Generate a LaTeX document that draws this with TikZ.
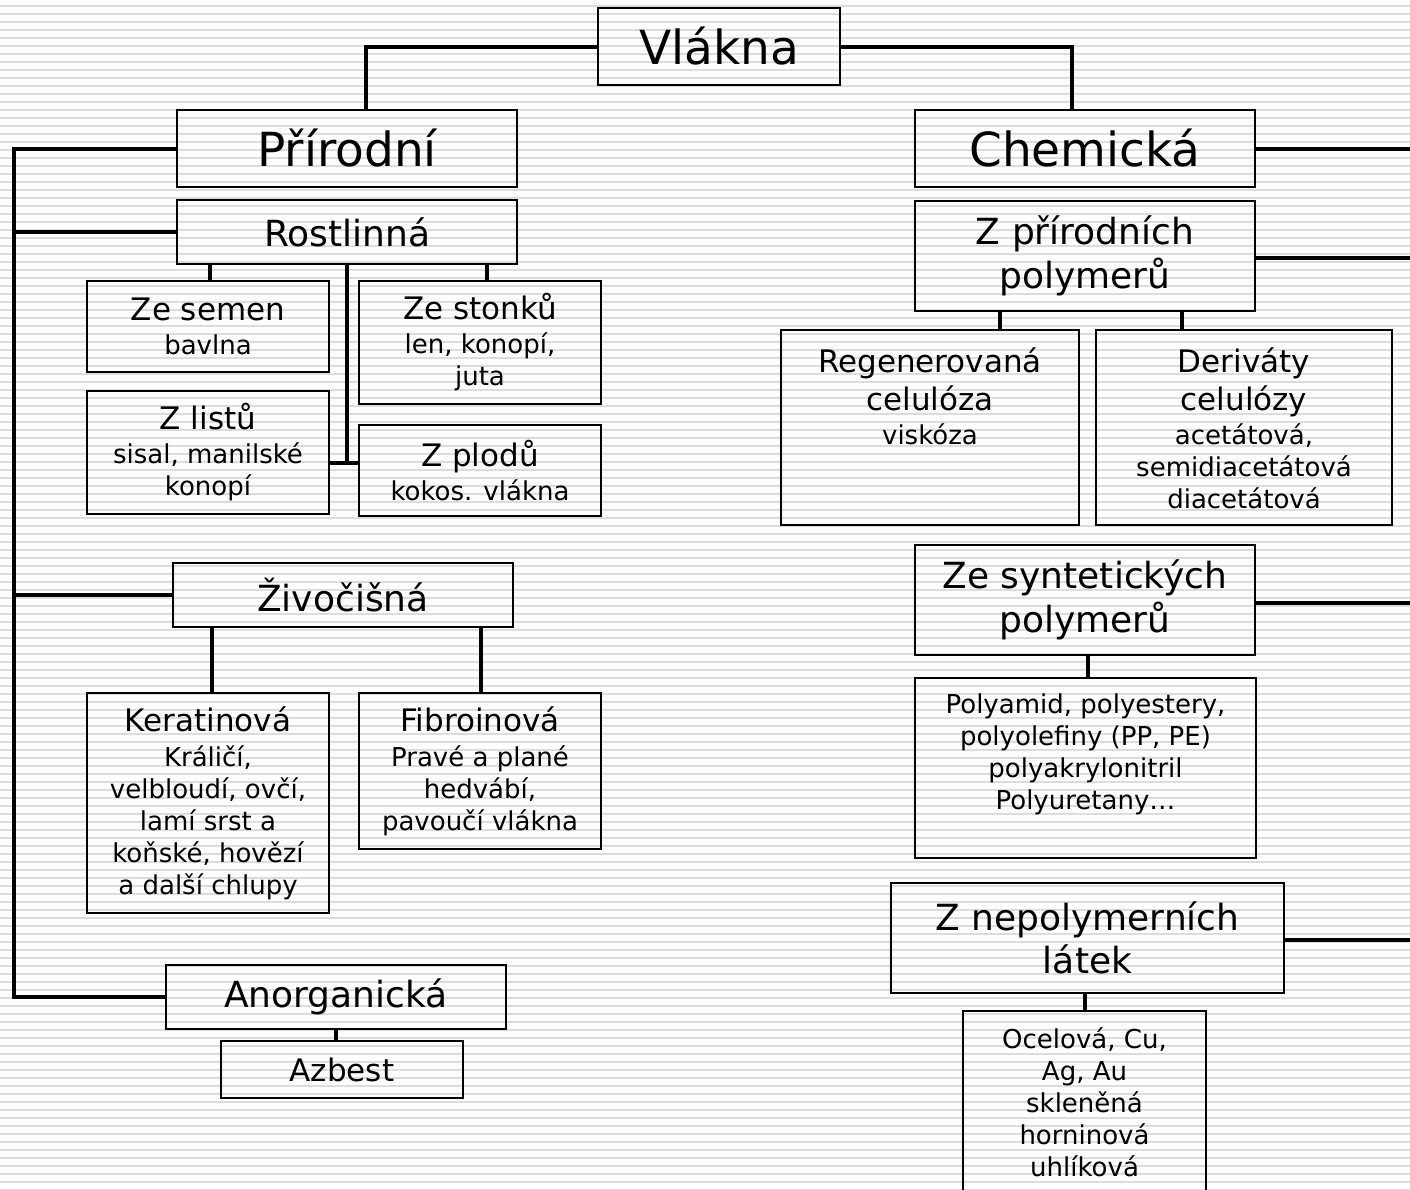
\documentclass[tikz,border=0pt]{standalone}
\usepackage{fontspec}
\setmainfont{DejaVu Sans}
\definecolor{stripe}{RGB}{220,220,220}
\newcommand\fbig{\fontsize{47}{56}\selectfont}
\newcommand\fmid{\fontsize{36}{43.5}\selectfont}
\newcommand\fsub{\fontsize{31}{38}\selectfont}
\newcommand\fsmall{\fontsize{26}{32}\selectfont}
\tikzset{
  box/.style={draw, line width=1.6pt, inner sep=0pt, align=center},
  txt/.style={inner sep=0pt, align=center, anchor=north},
  conn/.style={line width=4pt, line cap=rect},
  stripeline/.style={line width=2pt, draw=stripe}
}
\begin{document}
\begin{tikzpicture}[x=1pt,y=-1pt]
\useasboundingbox (0,0) rectangle (1410,1189);
\clip (0,0) rectangle (1410,1189);
\foreach \i in {0,...,148} \draw[stripeline] (0,5.7+8*\i) -- (1410,5.7+8*\i);

% top level
\node[box, font=\fbig, minimum width=242, minimum height=77] (vl) at (719,46.5) {Vlákna};
\node[box, font=\fbig, minimum width=340, minimum height=77] (pr) at (347,148.5) {Přírodní};
\node[box, font=\fbig, minimum width=340, minimum height=77] (ch) at (1085,148.5) {Chemická};

% natural
\node[box, font=\fmid, minimum width=340, minimum height=64] (ro) at (347,232) {Rostlinná};
\node[box, font=\fsmall, minimum width=242, minimum height=91] (zs) at (208,326.5) {{\fsub Ze semen}\\[2pt]bavlna};
\node[box, font=\fsmall, minimum width=242, minimum height=123] (zst) at (480,342.5) {{\fsub Ze stonků}\\[2pt]len, konopí,\\juta};
\node[box, font=\fsmall, minimum width=242, minimum height=123] (zl) at (208,452.5) {{\fsub Z listů}\\[2pt]sisal, manilské\\konopí};
\node[box, font=\fsmall, minimum width=242, minimum height=91] (zp) at (480,470.5) {{\fsub Z plodů}\\[2pt]kokos. vlákna};
\node[box, font=\fmid, minimum width=340, minimum height=64] (zi) at (343,595) {Živočišná};
\node[box, font=\fsmall, minimum width=242, minimum height=220] (ker) at (208,803) {{\fsub Keratinová}\\[3pt]Králičí,\\velbloudí, ovčí,\\lamí srst a\\koňské, hovězí\\a další chlupy};
\node[box, font=\fsmall, minimum width=242, minimum height=156] (fib) at (480,771) {{\fsub Fibroinová}\\[3pt]Pravé a plané\\hedvábí,\\pavoučí vlákna};
\node[box, font=\fmid, minimum width=340, minimum height=64] (ano) at (336,997) {Anorganická};
\node[box, font=\fsub, minimum width=242, minimum height=57] (az) at (342,1069.5) {Azbest};

% chemical
\node[box, font=\fmid, minimum width=340, minimum height=110] (zpp) at (1085,256) {Z přírodních\\polymerů};
\node[box, minimum width=298, minimum height=195] (reg) at (930,427.5) {};
\node[box, minimum width=296, minimum height=195] (der) at (1244,427.5) {};
\node[txt, font=\fsub] (regt) at ([yshift=-18pt]reg.north) {Regenerovaná\\celulóza\\[-4pt]{\fsmall viskóza}};
\node[txt, font=\fsub] (dert) at ([yshift=-18pt]der.north) {Deriváty\\celulózy\\[-4pt]{\fsmall acetátová,}\\[-6pt]{\fsmall semidiacetátová}\\[-6pt]{\fsmall diacetátová}};
\node[box, font=\fmid, minimum width=340, minimum height=110] (zsp) at (1085,600) {Ze syntetických\\polymerů};
\node[box, minimum width=341, minimum height=180] (pa) at (1085.5,768) {};
\node[txt, font=\fsmall] (pat) at ([yshift=-16pt]pa.north) {Polyamid, polyestery,\\polyolefiny (PP, PE)\\polyakrylonitril\\Polyuretany…};
\node[box, font=\fmid, minimum width=393, minimum height=110] (zn) at (1087.5,938) {Z nepolymerních\\látek};
\node[box, minimum width=243, minimum height=200] (oc) at (1084.5,1111) {};
\node[txt, font=\fsmall] (oct) at ([yshift=-17pt]oc.north) {Ocelová, Cu,\\Ag, Au\\skleněná\\horninová\\uhlíková};

% connectors top
\draw[conn] (vl.west) -| ([xshift=19pt]pr.north);
\draw[conn] (vl.east) -| ([xshift=-13pt]ch.north);

% left trunk
\coordinate (ltop) at (14,148.5);
\coordinate (lbot) at (14,997);
\draw[conn] (pr.west) -- (ltop) -- (lbot) -- (ano.west);
\draw[conn] (ro.west) -- (ro.west -| ltop);
\draw[conn] (zi.west) -- (zi.west -| ltop);

% Rostlinna
\draw[conn] ([xshift=2pt]zs.north) -- ([xshift=2pt]zs.north |- ro.south);
\draw[conn] ([xshift=7pt]zst.north) -- ([xshift=7pt]zst.north |- ro.south);
\coordinate (rj) at (347,463);
\draw[conn] (ro.south) -- (rj);
\draw[conn] (rj -| zl.east) -- (rj -| zp.west);

% Zivocisna
\draw[conn] ([xshift=4pt]ker.north) -- ([xshift=4pt]ker.north |- zi.south);
\draw[conn] ([xshift=1pt]fib.north) -- ([xshift=1pt]fib.north |- zi.south);

% Anorganicka
\draw[conn] (ano.south) -- (ano.south |- az.north);

% right side
\coordinate (redge) at (1420,0);
\draw[conn] (ch.east) -- (ch.east -| redge);
\draw[conn] ([yshift=-2pt]zpp.east) -- ([yshift=-2pt]zpp.east -| redge);
\draw[conn] ([yshift=-3pt]zsp.east) -- ([yshift=-3pt]zsp.east -| redge);
\draw[conn] ([yshift=-2pt]zn.east) -- ([yshift=-2pt]zn.east -| redge);

\draw[conn] ([xshift=70pt]reg.north) -- ([xshift=70pt]reg.north |- zpp.south);
\draw[conn] ([xshift=-62pt]der.north) -- ([xshift=-62pt]der.north |- zpp.south);
\draw[conn] ([xshift=2.5pt]pa.north) -- ([xshift=2.5pt]pa.north |- zsp.south);
\draw[conn] (oc.north) -- (oc.north |- zn.south);
\end{tikzpicture}
\end{document}
